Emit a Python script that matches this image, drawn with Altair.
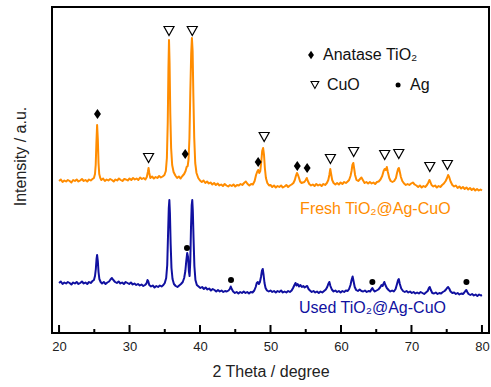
import altair as alt
import pandas as pd

# 2-theta (deg) and intensity (a.u.) for each pattern
fresh_points = [(20.0,152),(20.25,153.5),(20.5,151),(20.75,152.5),(21.0,151.5),(21.25,153),(21.5,152),(21.75,150.5),(22.0,153),(22.25,152),(22.5,153.5),(22.75,151.5),(23.0,152.5),(23.25,154),(23.5,152),(23.75,153),(24.0,151.5),(24.25,153.5),(24.5,152.5),(24.75,154),(24.95,155),(25.1,159),(25.2,168),(25.3,190),(25.4,208),(25.5,194),(25.6,170),(25.7,159),(25.85,155),(26.0,153),(26.25,154.5),(26.5,152),(26.75,153.5),(27.0,152.5),(27.25,154),(27.5,153),(27.75,151.5),(28.0,153.5),(28.25,152.5),(28.5,154.5),(28.75,153),(29.0,152),(29.25,154),(29.5,153.5),(29.75,152.5),(30.0,154.5),(30.25,153),(30.5,155),(30.75,153.5),(31.0,154.5),(31.25,153),(31.5,155.5),(31.75,154),(32.0,155),(32.25,153.5),(32.45,156),(32.6,161),(32.7,165),(32.8,160),(32.95,155),(33.2,156.5),(33.45,154.5),(33.7,156),(33.95,155),(34.2,157),(34.45,155.5),(34.7,156.5),(34.95,158),(35.15,162),(35.3,175),(35.42,210),(35.52,265),(35.6,293),(35.68,270),(35.78,220),(35.9,185),(36.05,168),(36.25,161),(36.5,157.5),(36.75,155),(37.0,156.5),(37.25,154.5),(37.5,157),(37.75,159),(37.95,162),(38.1,166),(38.25,167),(38.38,174),(38.5,195),(38.62,240),(38.75,280),(38.85,295),(38.95,282),(39.05,240),(39.18,195),(39.32,170),(39.5,160),(39.75,155),(40.0,152.5),(40.25,151),(40.5,152.5),(40.75,150),(41.0,151.5),(41.25,149.5),(41.5,150.5),(41.75,148.5),(42.0,150),(42.25,148),(42.5,149.5),(42.75,147.5),(43.0,148.5),(43.25,147),(43.5,149),(43.75,147.5),(44.0,146.5),(44.25,148),(44.5,147),(44.75,148.5),(45.0,146.5),(45.25,148),(45.5,147.5),(45.75,149),(46.0,148),(46.25,150),(46.5,151.5),(46.75,149),(47.0,147.5),(47.25,149),(47.5,148.5),(47.75,152),(47.95,158),(48.1,161),(48.25,163),(48.4,160),(48.55,162),(48.7,172),(48.82,182),(48.95,185),(49.08,178),(49.2,165),(49.35,155),(49.55,150),(49.8,147.5),(50.0,148),(50.25,146),(50.5,147.5),(50.75,145.5),(51.0,147),(51.25,146),(51.5,147.5),(51.75,145.5),(52.0,146.5),(52.25,148),(52.5,146),(52.75,147.5),(53.0,148.5),(53.25,150),(53.45,153),(53.6,157),(53.75,160),(53.9,158),(54.05,155),(54.2,151.5),(54.4,150),(54.6,150.5),(54.8,151),(55.0,153),(55.15,155),(55.3,152),(55.5,149),(55.75,147.5),(56.0,148.5),(56.25,147),(56.5,149),(56.75,147.5),(57.0,148.5),(57.25,147),(57.5,149),(57.75,148),(58.0,150),(58.2,153),(58.35,158),(58.48,164),(58.6,159),(58.75,153),(58.95,150),(59.2,148.5),(59.45,150),(59.7,148.5),(59.95,150.5),(60.2,149),(60.45,151),(60.7,150),(60.95,151.5),(61.15,153),(61.35,157),(61.5,162),(61.62,168),(61.75,170),(61.88,164),(62.0,158),(62.2,153),(62.45,152),(62.7,154),(62.9,155.5),(63.1,153),(63.35,150),(63.6,151),(63.85,149.5),(64.1,151),(64.35,149.5),(64.6,150.5),(64.85,149),(65.1,151),(65.35,151.5),(65.6,153.5),(65.85,157),(66.05,162),(66.2,164),(66.35,163),(66.5,166),(66.65,161),(66.85,155),(67.05,152),(67.3,151),(67.55,152),(67.8,155),(67.95,160),(68.1,164),(68.22,165),(68.35,161),(68.5,156),(68.7,152),(68.95,149.5),(69.2,148),(69.45,149),(69.7,148),(69.95,149.5),(70.2,150.5),(70.45,148.5),(70.7,147.5),(70.95,146),(71.2,147.5),(71.45,145.5),(71.7,147),(71.95,146),(72.2,148),(72.4,150.5),(72.55,153),(72.68,151),(72.85,148),(73.1,146.5),(73.35,147.5),(73.6,145.5),(73.85,147),(74.1,146),(74.35,148),(74.6,149.5),(74.85,152),(75.05,155),(75.2,158),(75.35,156),(75.55,151.5),(75.8,148),(76.05,146.5),(76.3,147.5),(76.55,145),(76.8,146.5),(77.05,144.5),(77.3,146),(77.55,144),(77.8,145.5),(78.05,143.5),(78.3,145),(78.55,143),(78.8,144.5),(79.05,142.5),(79.3,144),(79.55,142.5),(79.8,143.5),(80.0,142.5)]

used_points = [(20.0,50),(20.25,51.5),(20.5,49),(20.75,50.5),(21.0,49.5),(21.25,51),(21.5,50),(21.75,48.5),(22.0,50.5),(22.25,49.5),(22.5,51),(22.75,49),(23.0,50),(23.25,51.5),(23.5,49.5),(23.75,50.5),(24.0,49),(24.25,51),(24.5,50),(24.75,52),(24.95,53),(25.1,57),(25.22,64),(25.32,74),(25.4,78),(25.5,72),(25.6,61),(25.72,54),(25.9,51),(26.1,49.5),(26.35,51),(26.6,49),(26.85,50.5),(27.1,51.5),(27.3,53.5),(27.5,55),(27.7,53),(27.95,51),(28.2,50),(28.45,51.5),(28.7,49.5),(28.95,50.5),(29.2,49),(29.45,51),(29.7,50),(29.95,49),(30.2,50.5),(30.45,48.5),(30.7,49.5),(30.95,48),(31.2,49),(31.45,47.5),(31.7,48.5),(31.95,47),(32.2,48),(32.4,49.5),(32.55,53),(32.65,52),(32.8,48),(33.05,46.5),(33.3,47.5),(33.55,45.5),(33.8,47),(34.05,46),(34.3,47.5),(34.55,46.5),(34.8,48),(35.0,50),(35.2,55),(35.35,68),(35.47,100),(35.57,125),(35.65,133),(35.73,120),(35.83,90),(35.95,65),(36.1,54),(36.3,49),(36.55,47),(36.8,46),(37.05,47.5),(37.3,49),(37.55,51),(37.75,55),(37.92,62),(38.05,72),(38.18,80),(38.3,76),(38.42,62),(38.52,57),(38.62,72),(38.72,105),(38.82,128),(38.9,133),(38.98,122),(39.08,95),(39.2,67),(39.35,53),(39.55,48),(39.8,46.5),(40.05,45),(40.3,46),(40.55,44),(40.8,45.5),(41.05,43.5),(41.3,44.5),(41.55,42.5),(41.8,44),(42.05,43),(42.3,41.5),(42.55,43),(42.8,41.5),(43.05,42.5),(43.3,41),(43.55,42),(43.8,41.5),(44.05,42.5),(44.22,44),(44.36,46.5),(44.5,44),(44.7,41.5),(44.95,40),(45.2,41),(45.45,39.5),(45.7,41),(45.95,40),(46.2,41.5),(46.45,40),(46.7,41),(46.95,39.5),(47.2,41),(47.45,40.5),(47.7,42.5),(47.9,46),(48.05,50),(48.2,51),(48.35,49),(48.5,51),(48.65,56),(48.78,62),(48.9,64),(49.02,58),(49.15,50),(49.3,45),(49.5,42.5),(49.75,41.5),(50.0,42.5),(50.25,41),(50.5,42),(50.75,40.5),(51.0,42),(51.25,41),(51.5,42.5),(51.75,40.5),(52.0,41.5),(52.25,40.5),(52.5,42),(52.75,41),(53.0,42.5),(53.2,45),(53.4,48),(53.55,50),(53.7,47.5),(53.85,49),(54.05,46.5),(54.25,48),(54.45,46),(54.65,47),(54.85,45.5),(55.05,46.5),(55.2,47),(55.4,44),(55.6,42.5),(55.85,41),(56.1,42),(56.35,40.5),(56.6,41.5),(56.85,40),(57.1,41.5),(57.35,40.5),(57.6,42),(57.85,43.5),(58.05,46),(58.2,49),(58.35,51),(58.5,47),(58.7,43.5),(58.95,41.5),(59.2,42.5),(59.45,41),(59.7,42),(59.95,40.5),(60.2,42),(60.45,41),(60.7,42.5),(60.95,42),(61.15,44),(61.35,48),(61.5,53),(61.65,56.5),(61.78,52),(61.95,46),(62.15,43),(62.4,42),(62.65,43.5),(62.9,42),(63.15,41.5),(63.4,42.5),(63.65,41),(63.9,42),(64.15,41.5),(64.3,43.5),(64.45,45),(64.6,43),(64.8,41.5),(65.05,42.5),(65.3,43.5),(65.55,45.5),(65.75,48),(65.9,47),(66.05,49.5),(66.15,51),(66.3,48),(66.5,45),(66.75,43),(67.0,41.5),(67.25,42.5),(67.5,41.5),(67.75,44),(67.95,49),(68.1,53),(68.2,54),(68.35,49),(68.55,44.5),(68.8,42),(69.05,41),(69.3,42),(69.55,40.5),(69.8,41.5),(70.05,40),(70.3,41),(70.55,39.5),(70.8,40.5),(71.05,39.5),(71.3,41),(71.55,40),(71.8,39),(72.05,40.5),(72.3,42),(72.48,45),(72.6,46),(72.75,43),(72.95,40),(73.2,39.5),(73.45,40.5),(73.7,39),(73.95,40),(74.2,39.5),(74.45,41),(74.7,42),(74.9,43.5),(75.05,45),(75.2,46),(75.35,44.5),(75.55,41.5),(75.8,40),(76.05,40.5),(76.3,39),(76.55,40),(76.8,38.5),(77.05,39.5),(77.3,39),(77.5,40.5),(77.65,42),(77.78,43),(77.92,41),(78.1,39),(78.35,38),(78.6,39),(78.85,37.5),(79.1,38.5),(79.35,37),(79.6,38.5),(79.85,37.5),(80.0,38)]

# phase markers (2-theta, intensity)
anatase_marks = [(25.45, 219), (37.9, 179), (48.25, 171), (53.8, 167), (55.2, 165)]
cuo_marks = [(32.7, 175), (35.6, 302), (38.9, 302), (49.1, 196), (58.5, 174),
             (61.8, 181), (66.2, 178), (68.2, 179), (72.6, 166), (75.1, 168)]
ag_marks = [(38.15, 85), (44.4, 53), (64.45, 51), (77.8, 51)]

# legend entries: (symbol, x, y, label)
legend_items = [("anatase", 55.75, 278, "Anatase TiO\u2082"),
                ("cuo", 56.3, 248, "CuO"),
                ("ag", 68.1, 248, "Ag")]

series_labels = [("Fresh TiO\u2082@Ag-CuO", 54.2, 124, "Fresh"),
                 ("Used TiO\u2082@Ag-CuO", 54.05, 25, "Used")]

major_ticks = [20, 30, 40, 50, 60, 70, 80]
minor_ticks = [25, 35, 45, 55, 65, 75]

FONT = "Arial, Liberation Sans"
ORANGE = "#FF8C00"
BLUE = "#1010A0"

curves = pd.DataFrame(
    [dict(t=x, i=y, s="Fresh") for x, y in fresh_points]
    + [dict(t=x, i=y, s="Used") for x, y in used_points]
)

xs = alt.Scale(domain=[19, 81], nice=False, zero=False)
ys = alt.Scale(domain=[0, 326], nice=False, zero=False)

x_enc = alt.X("t:Q", scale=xs, axis=alt.Axis(
    values=major_ticks, ticks=False, domain=False, grid=False,
    labelFont=FONT, labelFontSize=13, labelColor="#222", labelPadding=7,
    title="2 Theta / degree", titleFont=FONT, titleFontSize=16,
    titleFontWeight="normal", titleColor="#222", titleY=38, titleBaseline="middle"))
y_enc = alt.Y("i:Q", scale=ys, axis=alt.Axis(
    labels=False, ticks=False, domain=False, grid=False,
    title="Intensity / a.u.", titleFont=FONT, titleFontSize=16,
    titleFontWeight="normal", titleColor="#222", titleX=-32, titleY=149,
    titleAngle=270, titleAlign="center", titleBaseline="middle"))

color_scale = alt.Scale(domain=["Fresh", "Used"], range=[ORANGE, BLUE])

lines = alt.Chart(curves).mark_line(strokeWidth=2, strokeJoin="round").encode(
    x=x_enc, y=y_enc,
    color=alt.Color("s:N", scale=color_scale, legend=None),
    detail="s:N")

diamond_path = "M0,-1L0.7,0L0,1L-0.7,0Z"
tri_path = "M-1,-0.9L1,-0.9L0,0.9Z"

def pts(lst):
    return pd.DataFrame([dict(t=x, i=y) for x, y in lst])

an = alt.Chart(pts(anatase_marks)).mark_point(
    shape=diamond_path, filled=True, color="black", size=100, opacity=1
).encode(x=alt.X("t:Q", scale=xs), y=alt.Y("i:Q", scale=ys))
cu = alt.Chart(pts(cuo_marks)).mark_point(
    shape=tri_path, filled=False, color="black", size=100, strokeWidth=1.2, opacity=1
).encode(x=alt.X("t:Q", scale=xs), y=alt.Y("i:Q", scale=ys))
ag = alt.Chart(pts(ag_marks)).mark_point(
    shape="circle", filled=True, color="black", size=36, opacity=1
).encode(x=alt.X("t:Q", scale=xs), y=alt.Y("i:Q", scale=ys))

leg = pd.DataFrame([dict(k=k, t=x, i=y, lab=l) for k, x, y, l in legend_items])
leg_an = alt.Chart(leg[leg.k == "anatase"]).mark_point(
    shape=diamond_path, filled=True, color="black", size=70, opacity=1
).encode(x=alt.X("t:Q", scale=xs), y=alt.Y("i:Q", scale=ys))
leg_cu = alt.Chart(leg[leg.k == "cuo"]).mark_point(
    shape=tri_path, filled=False, color="black", size=60, strokeWidth=1.1, opacity=1
).encode(x=alt.X("t:Q", scale=xs), y=alt.Y("i:Q", scale=ys))
leg_ag = alt.Chart(leg[leg.k == "ag"]).mark_point(
    shape="circle", filled=True, color="black", size=25, opacity=1
).encode(x=alt.X("t:Q", scale=xs), y=alt.Y("i:Q", scale=ys))
leg_txt = alt.Chart(leg).mark_text(
    align="left", baseline="middle", font=FONT, fontSize=16, color="#111", dx=12
).encode(x=alt.X("t:Q", scale=xs), y=alt.Y("i:Q", scale=ys), text="lab:N")

lab = pd.DataFrame([dict(lab=l, t=x, i=y, s=s) for l, x, y, s in series_labels])
lab_txt = alt.Chart(lab).mark_text(
    align="left", baseline="middle", font=FONT, fontSize=16
).encode(x=alt.X("t:Q", scale=xs), y=alt.Y("i:Q", scale=ys), text="lab:N",
         color=alt.Color("s:N", scale=color_scale, legend=None))

maj = alt.Chart(pd.DataFrame({"t": major_ticks})).mark_rule(
    color="black", strokeWidth=2).encode(
    x=alt.X("t:Q", scale=xs), y=alt.value(326), y2=alt.value(318))
mnr = alt.Chart(pd.DataFrame({"t": minor_ticks})).mark_rule(
    color="black", strokeWidth=2).encode(
    x=alt.X("t:Q", scale=xs), y=alt.value(326), y2=alt.value(322))

chart = alt.layer(lines, an, cu, ag, leg_an, leg_cu, leg_ag, leg_txt, lab_txt, maj, mnr).properties(
    width=437, height=326,
    autosize=alt.AutoSizeParams(type="none"),
    padding={"left": 52, "top": 7, "right": 2, "bottom": 54},
    background="white",
).configure_view(stroke="black", strokeWidth=2)

chart.save("out.html", embed_options={"renderer": "svg", "actions": False})
